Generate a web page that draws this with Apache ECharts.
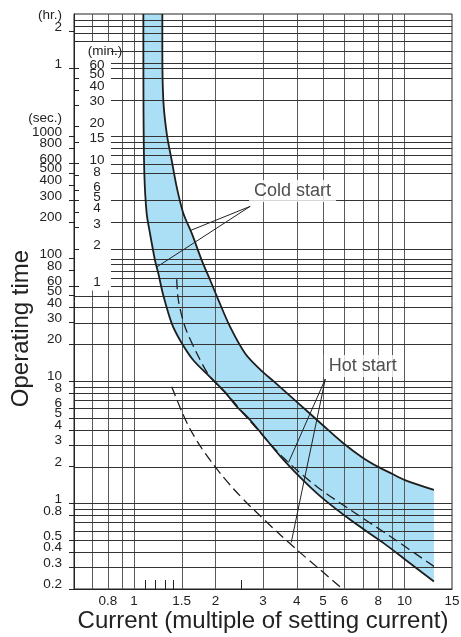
<!DOCTYPE html>
<html>
<head>
<meta charset="utf-8">
<script src="https://cdn.jsdelivr.net/npm/echarts@6/dist/echarts.min.js"></script>
<style>
  html, body { margin: 0; padding: 0; background: #fff; }
  #chart { width: 461px; height: 637px; }
</style>
</head>
<body>
<div id="chart"></div>
<script>
// [current multiple, operating time in seconds]
const coldUpper = [[1.273, 10000], [1.273, 5000], [1.284, 1960], [1.322, 1050], [1.379, 635], [1.439, 385],
  [1.522, 235], [1.636, 161], [1.781, 97], [1.912, 67], [2.052, 46], [2.268, 27.7], [2.577, 16.8], [2.93, 12.4],
  [3.28, 10], [3.97, 6.87], [4.96, 4.42], [5.93, 3.12], [6.97, 2.39], [8, 1.99], [9, 1.75], [10, 1.56], [12.86, 1.29]];
const coldLower = [[1.083, 10000], [1.084, 2000], [1.092, 500], [1.114, 235], [1.146, 161], [1.196, 97],
  [1.23, 76], [1.284, 50], [1.379, 29.6], [1.48, 21.6], [1.658, 14.8], [1.912, 10.8], [2.204, 7.8],
  [2.401, 6.17], [2.689, 4.81], [3.573, 2.27], [4.751, 1.21], [6.31, 0.735], [8.38, 0.474], [10, 0.352], [12.86, 0.23]];
const hotUpper = [[1.439, 68], [1.459, 46], [1.545, 27.7], [1.707, 16.9], [1.912, 10.8], [2.2, 7.9],
  [2.689, 4.7], [3.573, 2.36], [4.751, 1.37], [6.31, 0.887], [8.88, 0.537], [12.86, 0.306]];
const hotLower = [[1.379, 9], [1.502, 5.64], [1.612, 4.06], [1.756, 2.95], [1.941, 2.16], [2.113, 1.7],
  [2.332, 1.32], [2.689, 0.95], [3.473, 0.555], [4.005, 0.418], [4.886, 0.287], [5.9, 0.2]];

const xLabels = [0.8, 1, 1.5, 2, 3, 4, 5, 6, 8, 10, 15];
const xMinorTicks = [1.1, 1.2, 1.3, 1.4, 2.5];
const xGrid = [0.7, 0.8, 0.9, 1, 1.5, 2, 3, 4, 5, 6, 7, 8, 9, 10];
const secLabels = [0.2, 0.3, 0.4, 0.5, 0.8, 1, 2, 3, 4, 5, 6, 8, 10, 20, 30, 40, 50, 60, 80, 100,
  200, 300, 400, 500, 600, 800, 1000];
const secGrid = [0.3, 0.4, 0.5, 0.6, 0.7, 0.8, 0.9, 1, 2, 3, 4, 5, 6, 7, 8, 9, 10, 20, 30, 40, 50, 60, 70,
  80, 90, 100, 120, 200, 300, 500, 600, 700, 800, 900, 1000, 2000, 3000, 3600, 4000, 5000, 6000, 7000, 8000, 9000];
const minLabels = [1, 2, 3, 4, 5, 6, 8, 10, 15, 20, 30, 40, 50, 60];
const minTicks = [1, 2, 3, 4, 5, 6, 8, 10, 15, 20, 30, 40, 50, 60, 100];
const hrLabels = [1, 2];

// where the unit headers sit on each axis, plus a blank stopper label above them
// (ECharts drops the last label when it collides with the one before it)
const SEC_HEAD = 1300, MIN_HEAD = 77, MIN_STOP = 160, HR_HEAD = 2.47, HR_STOP = 2.7;

const FONT = '"Liberation Sans", Arial, sans-serif';
const INK = '#222';
const fmt = v => String(parseFloat((+v).toPrecision(4)));
const near = (a, b) => Math.abs(a - b) / b < 0.01;

const chart = echarts.init(document.getElementById('chart'));

function bandItem(params, api) {
  if (params.dataIndex !== 0) return;
  const pts = coldUpper.concat(coldLower.slice().reverse()).map(p => api.coord(p));
  return { type: 'polygon', shape: { points: pts }, style: { fill: '#abdff6' } };
}

function gridItem(params, api) {
  const cs = params.coordSys;
  if (api.value(2) === 0) {
    const x = Math.round(api.coord([api.value(0), 1])[0]) + 0.5;
    return { type: 'line', shape: { x1: x, y1: cs.y, x2: x, y2: cs.y + cs.height },
      style: { stroke: '#5a5a5a', lineWidth: 1 } };
  }
  const y = Math.round(api.coord([1, api.value(1)])[1]) + 0.5;
  return { type: 'line', shape: { x1: cs.x, y1: y, x2: cs.x + cs.width, y2: y },
    style: { stroke: '#333', lineWidth: 1 } };
}

function maskItem(params, api) {
  const a = api.coord([api.value(0), api.value(1)]);
  const b = api.coord([api.value(2), api.value(3)]);
  return { type: 'rect', shape: { x: a[0], y: b[1], width: b[0] - a[0], height: a[1] - b[1] },
    style: { fill: '#fff' } };
}

let options = {
  animation: false,
  textStyle: { fontFamily: FONT },
  grid: { left: 74, right: 9, top: 14, bottom: 48, show: true, z: 3, borderColor: INK, borderWidth: 1,
    outerBoundsMode: 'none' },
  xAxis: {
    type: 'log', logBase: 10, min: 0.6, max: 15, z: 10,
    name: 'Current (multiple of setting current)', nameLocation: 'middle', nameGap: 20, nameMoveOverlap: false,
    nameTextStyle: { fontSize: 24, color: INK },
    axisLine: { onZero: false, lineStyle: { color: INK, width: 1 } },
    axisTick: { show: true, inside: true, length: 9, customValues: xMinorTicks, lineStyle: { color: INK } },
    axisLabel: { customValues: xLabels, margin: 5, fontSize: 13.5, color: INK, formatter: fmt,
      showMinLabel: true, showMaxLabel: true },
    splitLine: { show: false },
    minorSplitLine: { show: false },
  },
  yAxis: [
    {
      // seconds
      type: 'log', logBase: 10, min: 0.2, max: 10000, position: 'left', z: 10,
      name: 'Operating time', nameLocation: 'middle', nameGap: 41, nameMoveOverlap: false,
      nameTextStyle: { fontSize: 24, color: INK, padding: [0, 54, 0, 0] },
      axisLine: { show: true, onZero: false, lineStyle: { color: INK, width: 1 } },
      axisTick: { show: true, length: 5, customValues: secLabels, lineStyle: { color: INK } },
      axisLabel: {
        customValues: secLabels.concat([SEC_HEAD]), margin: 12, fontSize: 13.5, color: INK,
        verticalAlign: 'bottom', lineHeight: 9,
        formatter: v => near(v, SEC_HEAD) ? '(sec.)' : fmt(v),
      },
      splitLine: { show: false },
    },
    {
      // minutes
      type: 'log', logBase: 10, min: 0.2 / 60, max: 10000 / 60, position: 'left', z: 10,
      axisLine: { show: false, onZero: false },
      axisTick: { show: true, inside: true, length: 5, customValues: minTicks, lineStyle: { color: INK } },
      axisLabel: {
        inside: true, customValues: minLabels.concat([MIN_HEAD, MIN_STOP]), margin: 23, align: 'center',
        fontSize: 13.5, color: INK, verticalAlign: 'bottom', lineHeight: 7,
        formatter: v => near(v, MIN_STOP) ? ' ' : near(v, MIN_HEAD) ? '{h|(min.)}' : fmt(v),
        rich: { h: { fontSize: 13.5, color: INK, lineHeight: 7, padding: [0, 0, 0, 16] } },
      },
      splitLine: { show: false },
    },
    {
      // hours
      type: 'log', logBase: 10, min: 0.2 / 3600, max: 10000 / 3600, position: 'left', z: 10,
      axisLine: { show: false, onZero: false },
      axisTick: { show: true, length: 5, customValues: hrLabels, lineStyle: { color: INK } },
      axisLabel: {
        customValues: hrLabels.concat([HR_HEAD, HR_STOP]), margin: 12, fontSize: 13.5, color: INK,
        verticalAlign: 'bottom', lineHeight: 9,
        formatter: v => near(v, HR_STOP) ? ' ' : near(v, HR_HEAD) ? '(hr.)' : fmt(v),
      },
      splitLine: { show: false },
    },
  ],
  series: [
    {
      type: 'custom', name: 'band', z: 1, silent: true,
      data: [[1, 1]], renderItem: bandItem,
    },
    {
      type: 'custom', name: 'grid', z: 4, silent: true, encode: { x: 0, y: 1 },
      data: xGrid.map(v => [v, 1, 0]).concat(secGrid.map(v => [1, v, 1])),
      renderItem: gridItem,
    },
    {
      type: 'custom', name: 'minute column', z: 5, silent: true, encode: { x: [0, 2], y: [1, 3] },
      data: [[0.6005, 55, 0.822, 5900]], renderItem: maskItem,
    },
    {
      type: 'line', name: 'cold slow', z: 6, data: coldUpper, showSymbol: false, smooth: 0.3, silent: true,
      lineStyle: { color: '#1e1e1e', width: 1.8 },
    },
    {
      type: 'line', name: 'cold fast', z: 6, data: coldLower, showSymbol: false, smooth: 0.3, silent: true,
      lineStyle: { color: '#1e1e1e', width: 1.8 },
    },
    {
      type: 'line', name: 'hot slow', z: 6, data: hotUpper, showSymbol: false, smooth: 0.3, silent: true,
      lineStyle: { color: '#1e1e1e', width: 1.3, type: [10, 5] },
    },
    {
      type: 'line', name: 'hot fast', z: 6, data: hotLower, showSymbol: false, smooth: 0.3, silent: true,
      lineStyle: { color: '#1e1e1e', width: 1.3, type: [10, 5] },
    },
    {
      type: 'scatter', name: 'callouts', z: 8, silent: true, symbolSize: 1,
      itemStyle: { color: 'transparent' },
      data: [{ name: 'Cold start', value: [3.86, 358] }, { name: 'Hot start', value: [7.02, 13.3] }],
      label: {
        show: true, position: 'inside', formatter: '{b}', fontSize: 18, color: INK,
        backgroundColor: '#fff', padding: [2, 5],
      },
      markLine: {
        silent: true, symbol: 'none', z: 7,
        label: { show: false },
        lineStyle: { color: INK, width: 1, type: 'solid' },
        data: [
          [{ coord: [2.69, 268] }, { coord: [1.626, 171] }],
          [{ coord: [2.69, 268] }, { coord: [1.214, 85.6] }],
          [{ coord: [5.1, 10.4] }, { coord: [3.728, 2.16] }],
          [{ coord: [5.1, 10.4] }, { coord: [3.815, 0.48] }],
        ],
      },
    },
  ],
};
chart.setOption(options);
</script>
</body>
</html>
